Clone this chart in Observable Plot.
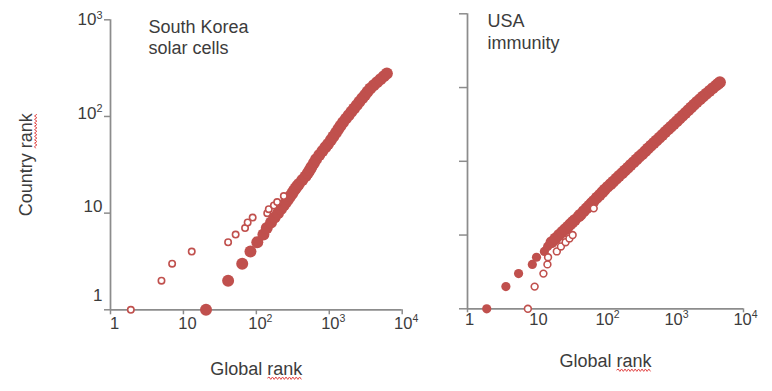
<!DOCTYPE html>
<html><head><meta charset="utf-8">
<script src="https://cdn.jsdelivr.net/npm/d3@7"></script>
<script src="https://cdn.jsdelivr.net/npm/@observablehq/plot@0.6"></script>
<style>
body{margin:0;background:#fff;}
#chart{position:relative;width:772px;height:391px;overflow:hidden;}
#chart svg{position:absolute;top:0;overflow:visible;background:transparent;}
</style></head><body><div id="chart"></div>
<script>
// ---- data ----
const decadeTicks = [1, 10, 100, 1000, 10000];
const tickLabels = ["1", "10", "10²", "10³", "10⁴"];

const krTitle = "South Korea\nsolar cells";
const krCountry = [1,2,3,4,5,6,7,8,9,10,11,12,13,14,15,16,17,18,19,20,22,24,26,28,30,33,36,40,44,48,52,57,62,68,74,80,87,95,103,112,121,131,142,154,167,180,195,210,226,243,261,279];
const krGlobal = [20.4,41,64,83,103,125,139,159,178,198,217,237,257,275,293,310,326,344,361,383,427,471,509,540,570,616,659,730,806,883,962,1054,1136,1236,1333,1429,1545,1690,1842,2010,2188,2376,2588,2831,3090,3342,3648,4063,4520,5035,5598,6166];
const krOpenCountry = [1,2,3,4,5,6,7,8,9,10,11,12,13,15];
const krOpenGlobal = [1.9,5,7,13,41,52,70,76,89,141,148,174,193,238];

const usTitle = "USA\nimmunity";
const usCountry = [1,2,3,4,5,6,7,8,9,10,11,12,13,14,15,16,18,19,21,23,25,27,29,32,35,38,41,45,49,53,58,63,69,75,82,89,97,106,115,125,137,149,162,177,192,209,228,249,271,295,321,350,381,415,452,492,536,584,636,693,755,822,895,975,1062,1130,1183];
const usGlobal = [1.9,3.6,5.5,8.7,10,13,14.5,16.5,18.8,21.2,23.6,26,28.5,30.9,33.4,35.9,41,43.6,48.2,53.1,58,62.8,67.6,74.8,82.4,89.8,97.1,107,118,129,143,157,174,191,211,231,255,281,308,339,376,412,454,501,548,604,665,735,809,889,979,1079,1186,1306,1439,1581,1742,1914,2109,2339,2588,2884,3214,3573,3981,4315,4550];
const usOpenCountry = [1,2,3,4,5,6,7,8,9,10,23];
const usOpenGlobal = [7.5,9.4,12.6,14.4,14.7,19.7,22.6,26.4,30,33.4,67.5];

const xLabel = "Global rank";
const yLabel = "Country rank";

// ---- styles ----
const RED = "#c0504d", AXIS = "#8c8c8c", TXT = "#3c3c3c";
const FONT = "'Liberation Sans', Arial, sans-serif";
const fmt = d => tickLabels[decadeTicks.indexOf(d)];
const rows = (gs, cs) => gs.map((g, i) => ({g, c: cs[i]}));

function axisLines(ymax) {
  return [
    Plot.ruleY([1], {x1: 1, x2: 10000, stroke: AXIS, strokeWidth: 1.75}),
    Plot.ruleX([1], {y1: 1, y2: ymax, stroke: AXIS, strokeWidth: 1.75})
  ];
}

const krRows = rows(krGlobal, krCountry);
const usRows = rows(usGlobal, usCountry);

// ---- left panel ----
const left = Plot.plot({
  width: 420, height: 391,
  marginLeft: 110, marginRight: 18.3, marginTop: 19.3, marginBottom: 81.7,
  style: {fontFamily: FONT, fontSize: "15px", background: "transparent", overflow: "visible"},
  x: {type: "log", domain: [1, 10000]},
  y: {type: "log", domain: [1, 1000]},
  marks: [
    ...axisLines(1000),
    Plot.axisY(decadeTicks.slice(0, 4), {tickSize: 6, fill: "none", stroke: AXIS, strokeWidth: 1.5, label: null}),
    ...[[1, -14], [10, -7], [100, -3], [1000, 0]].map(([t, dy]) =>
      Plot.axisY([t], {stroke: "none", fill: TXT, fontSize: 17, tickSize: 6, tickPadding: 2, dy, tickFormat: fmt, label: null})),
    Plot.axisX(decadeTicks, {tickSize: 5, fill: "none", stroke: AXIS, strokeWidth: 1.5, label: null}),
    Plot.axisX(decadeTicks, {stroke: "none", fill: TXT, fontSize: 16.5, tickSize: 5, tickPadding: 2, dx: 4, tickFormat: fmt, label: null}),
    Plot.dot(krRows, {x: "g", y: "c", r: 6, fill: RED}),
    Plot.dot(rows(krOpenGlobal, krOpenCountry), {x: "g", y: "c", r: 3.2, fill: "white", stroke: RED, strokeWidth: 1.6}),
    Plot.text([krTitle], {frameAnchor: "top-left", textAnchor: "start", lineAnchor: "top", dx: 38, dy: -2, fontSize: 18, lineHeight: 1.17, fill: TXT}),
    Plot.text([yLabel], {frameAnchor: "left", textAnchor: "middle", rotate: -90, dx: -84, fontSize: 18, fill: TXT}),
    Plot.text([xLabel], {frameAnchor: "bottom", textAnchor: "middle", dy: 65, fontSize: 18, fill: TXT})
  ]
});

// ---- right panel ----
const right = Plot.plot({
  width: 400, height: 391,
  marginLeft: 95, marginRight: 29, marginTop: 13.3, marginBottom: 82.7,
  style: {fontFamily: FONT, fontSize: "15px", background: "transparent", overflow: "visible"},
  x: {type: "log", domain: [1, 10000]},
  y: {type: "log", domain: [1, 10000]},
  marks: [
    ...axisLines(10000),
    Plot.axisY(decadeTicks, {tickSize: 8, fill: "none", stroke: AXIS, strokeWidth: 1.5, label: null}),
    Plot.axisX([1, 10000], {tickSize: 4, fill: "none", stroke: AXIS, strokeWidth: 1.5, label: null}),
    Plot.axisX(decadeTicks, {stroke: "none", fill: TXT, fontSize: 16.5, tickSize: 0, tickPadding: 4, dx: 2, tickFormat: fmt, label: null}),
    Plot.dot(usRows.slice(0, 7), {x: "g", y: "c", r: 4.6, fill: RED}),
    Plot.dot(usRows.slice(7), {x: "g", y: "c", r: 6, fill: RED}),
    Plot.dot(rows(usOpenGlobal, usOpenCountry), {x: "g", y: "c", r: 3.4, fill: "white", stroke: RED, strokeWidth: 1.6}),
    Plot.text([usTitle], {frameAnchor: "top-left", textAnchor: "start", lineAnchor: "top", dx: 20, dy: -2, fontSize: 18, lineHeight: 1.2, fill: TXT}),
    Plot.text([xLabel], {frameAnchor: "bottom", textAnchor: "middle", dy: 58, fontSize: 18, fill: TXT})
  ]
});

left.style.left = "0px";
right.style.left = "372px";

const chart = document.getElementById("chart");
chart.appendChild(left);
chart.appendChild(right);

const SVGNS = "http://www.w3.org/2000/svg";
const supMap = {"²": "2", "³": "3", "⁴": "4"};

// larger raised exponent for the power-of-ten tick labels
function superscripts(svg) {
  svg.querySelectorAll("text").forEach(t => {
    const s = t.textContent;
    if (t.childElementCount === 0 && /^10[²³⁴]$/.test(s)) {
      t.textContent = "10";
      const ts = document.createElementNS(SVGNS, "tspan");
      ts.textContent = supMap[s[2]];
      ts.setAttribute("font-size", "0.64em");
      ts.setAttribute("dy", "-0.62em");
      t.appendChild(ts);
    }
  });
}

// spell-check style red wavy underline under "rank"
function wavyRank(svg) {
  svg.querySelectorAll("text").forEach(t => {
    const s = t.textContent;
    if (s !== xLabel && s !== yLabel) return;
    const i = s.indexOf("rank");
    const a = t.getStartPositionOfChar(i);
    const b = t.getEndPositionOfChar(s.length - 1);
    const y0 = a.y + 3.4;
    let d = `M${a.x},${y0}`;
    let up = true;
    for (let x = a.x + 1.7; x <= b.x + 0.1; x += 1.7) {
      d += `L${x.toFixed(1)},${(y0 + (up ? -1.2 : 1.2)).toFixed(1)}`;
      up = !up;
    }
    const p = document.createElementNS(SVGNS, "path");
    p.setAttribute("d", d);
    p.setAttribute("fill", "none");
    p.setAttribute("stroke", "#e34a4a");
    p.setAttribute("stroke-width", "1");
    const tr = t.getAttribute("transform");
    if (tr) p.setAttribute("transform", tr);
    t.parentNode.appendChild(p);
  });
}
[left, right].forEach(svg => { superscripts(svg); wavyRank(svg); });
</script>
</body></html>
